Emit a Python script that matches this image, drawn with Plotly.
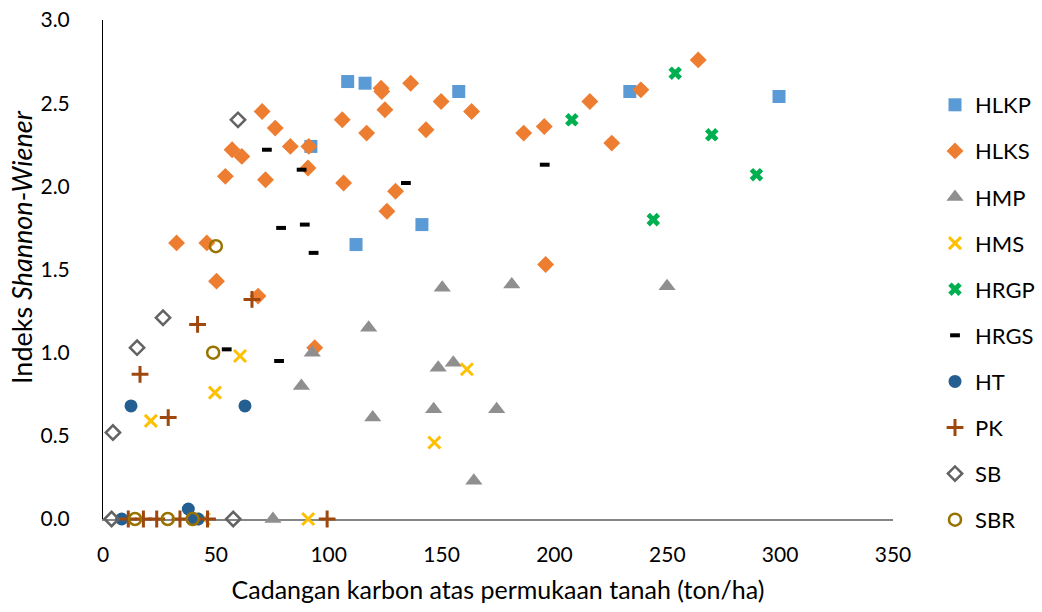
import plotly.graph_objects as go

# ---- data (x: carbon stock ton/ha, y: Shannon-Wiener index) ----
hlkp_x = [108.4, 116.1, 92.1, 112.1, 141.3, 157.6, 233.4, 299.5]
hlkp_y = [2.63, 2.62, 2.24, 1.65, 1.77, 2.57, 2.57, 2.54]

hlks_x = [123.2, 123.5, 136.3, 149.8, 70.5, 124.9, 106.0, 76.3, 116.8, 143.1, 57.2, 83.0,
          91.2, 61.5, 90.8, 54.2, 72.0, 106.6, 129.6, 125.8, 32.6, 46.0, 50.3, 68.7, 93.8,
          163.3, 186.4, 195.5, 215.7, 225.4, 238.3, 263.7, 196.1]
hlks_y = [2.59, 2.57, 2.62, 2.51, 2.45, 2.46, 2.40, 2.35, 2.32, 2.34, 2.22, 2.24,
          2.24, 2.18, 2.11, 2.06, 2.04, 2.02, 1.97, 1.85, 1.66, 1.66, 1.43, 1.34, 1.03,
          2.45, 2.32, 2.36, 2.51, 2.26, 2.58, 2.76, 1.53]

hmp_x = [150.3, 117.7, 92.7, 148.5, 87.9, 119.5, 146.5, 75.3, 181.1, 249.9, 155.2, 174.4, 164.3]
hmp_y = [1.39, 1.15, 1.00, 0.91, 0.80, 0.61, 0.66, 0.0, 1.41, 1.40, 0.94, 0.66, 0.23]

hms_x = [60.7, 49.6, 21.2, 146.8, 90.9, 161.2, 44.7]
hms_y = [0.98, 0.76, 0.59, 0.46, 0.0, 0.90, 0.0]

hrgp_x = [207.7, 253.5, 269.7, 289.5, 243.8]
hrgp_y = [2.40, 2.68, 2.31, 2.07, 1.80]

hrgs_x = [72.6, 88.0, 134.2, 78.9, 89.4, 93.3, 195.7, 54.8, 78.0]
hrgs_y = [2.22, 2.10, 2.02, 1.75, 1.77, 1.60, 2.13, 1.02, 0.95]

ht_x = [12.4, 62.9, 37.8, 8.3, 40.5, 42.2]
ht_y = [0.68, 0.68, 0.06, 0.0, 0.0, 0.0]

pk_x = [66.0, 41.9, 16.4, 28.9, 99.3, 11.2, 17.9, 23.8, 34.1, 46.3]
pk_y = [1.32, 1.17, 0.87, 0.61, 0.0, 0.0, 0.0, 0.0, 0.0, 0.0]

sb_x = [59.8, 26.6, 15.1, 4.4, 3.8, 57.7]
sb_y = [2.40, 1.21, 1.03, 0.52, 0.0, 0.0]

sbr_x = [50.0, 48.8, 14.2, 28.7, 39.7]
sbr_y = [1.64, 1.00, 0.0, 0.0, 0.0]

series = [
    ("HLKP", hlkp_x, hlkp_y, dict(symbol="square", size=13, color="#5B9BD5")),
    ("HLKS", hlks_x, hlks_y, dict(symbol="diamond", size=13, color="#ED7D31")),
    ("HMP", hmp_x, hmp_y, dict(symbol="triangle-up", size=15, color="#8F8F8F")),
    ("HMS", hms_x, hms_y, dict(symbol="x-thin-open", size=12, color="#FFC000",
                               line=dict(color="#FFC000", width=3))),
    ("HRGP", hrgp_x, hrgp_y, dict(symbol="x", size=12, color="#00B050")),
    ("HRGS", hrgs_x, hrgs_y, dict(symbol="line-ew-open", size=7, color="#000000",
                                  line=dict(color="#000000", width=4))),
    ("HT", ht_x, ht_y, dict(symbol="circle", size=13, color="#255E91")),
    ("PK", pk_x, pk_y, dict(symbol="cross-thin-open", size=12, color="#9E480E",
                            line=dict(color="#9E480E", width=3))),
    ("SB", sb_x, sb_y, dict(symbol="diamond-open", size=11, color="#636363",
                            line=dict(color="#636363", width=2.5))),
    ("SBR", sbr_x, sbr_y, dict(symbol="circle-open", size=12, color="#997300",
                               line=dict(color="#997300", width=2.5))),
]

fig = go.Figure()
for name, xs, ys, mk in series:
    fig.add_trace(go.Scatter(x=xs, y=ys, mode="markers", name=name, marker=mk,
                             cliponaxis=False, legendgroup=name))

FONT = "Lato, 'Open Sans', sans-serif"
W, H = 1042, 612
ML, MR, MT, MB = 103, 149, 20, 93
PLOT_W = W - ML - MR
PLOT_H = H - MT - MB
fig.update_layout(
    width=W, height=H, autosize=False,
    margin=dict(l=ML, r=MR, t=MT, b=MB, autoexpand=False),
    paper_bgcolor="white", plot_bgcolor="white",
    font=dict(family=FONT, size=21, color="#000000"),
    legend=dict(xref="container", yref="container", x=935 / W, y=1 - 84 / H,
                xanchor="left", yanchor="top", maxheight=580,
                font=dict(family=FONT, size=22), tracegroupgap=14.5, itemwidth=30),
    xaxis=dict(range=[0, 350], dtick=50, showgrid=False, zeroline=False,
               showline=True, linecolor="#868686", linewidth=2,
               ticks="", ticklabelstandoff=16, automargin=False,
               layer="below traces",
               title=dict(text="Cadangan karbon atas permukaan tanah (ton/ha)",
                          font=dict(family=FONT, size=25), standoff=16)),
    yaxis=dict(range=[0, 3], dtick=0.5, tickformat=".1f", showgrid=False,
               zeroline=False, showline=True, linecolor="#000000", linewidth=1,
               ticks="", ticklabelstandoff=28, automargin=False,
               layer="below traces"),
    annotations=[dict(text="Indeks <i>Shannon-Wiener</i>", textangle=-90,
                      xref="paper", yref="paper", x=(21 - ML) / PLOT_W,
                      y=(H - MB - 247) / PLOT_H, xanchor="center", yanchor="middle",
                      showarrow=False, font=dict(size=27, family=FONT))],
)

fig.write_html(
    "out.html",
    config={"displayModeBar": False, "responsive": False},
    post_script="document.body.style.margin='0';document.body.style.overflow='hidden';",
)
